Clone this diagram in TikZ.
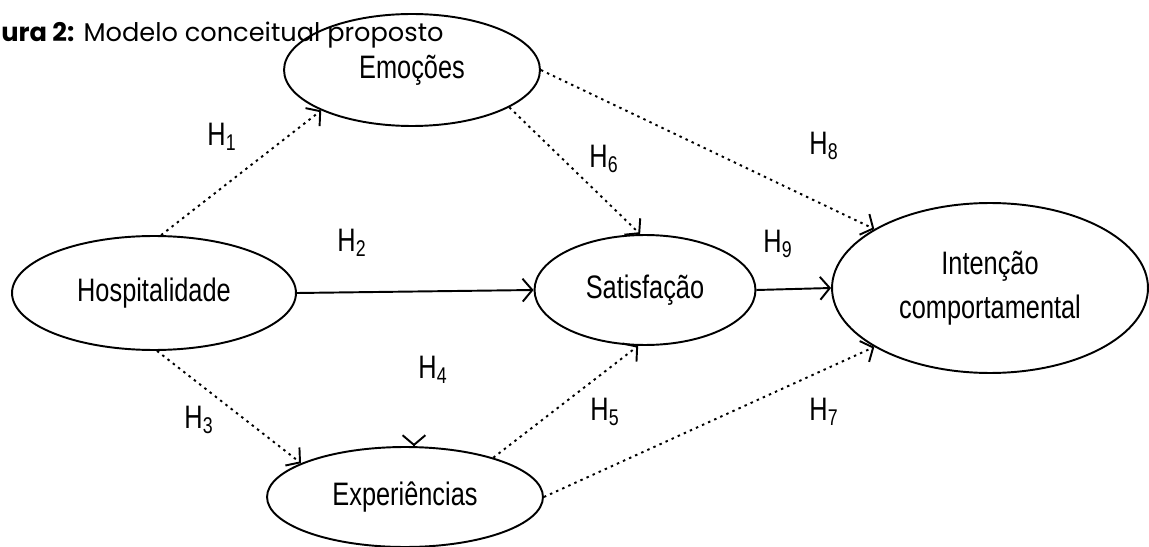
\documentclass[tikz,border=0pt]{standalone}
\usepackage{fontspec}
\setmainfont{Liberation Sans}
\newfontfamily\narrowfont[FakeStretch=0.78]{Liberation Sans}
\newfontfamily\titlefont{Poppins}
\usetikzlibrary{arrows.meta,shapes.geometric}
\newcommand{\hyp}[1]{H\textsubscript{#1}}

\begin{document}
\begin{tikzpicture}[x=0.02cm,y=-0.02cm]
    \tikzstyle{every node}+=[inner sep=0pt]
    \tikzstyle{construct}=[draw, ellipse, line width=1.1pt, align=center, font=\narrowfont\fontsize{18.5}{25}\selectfont]
    \tikzstyle{arr}=[line width=1.1pt, -{Straight Barb[length=5.5pt,width=13pt]}]
    \tikzstyle{dotarr}=[arr, dash pattern=on 1.4pt off 2.4pt]
    \tikzstyle{hlabel}=[font=\narrowfont\fontsize{18.5}{20}\selectfont]
    \useasboundingbox (0,0) rectangle (1149,547);
    % title
    \node[anchor=base west, font=\titlefont\fontsize{14.6}{16}\selectfont] (title) at (1,42) {\textbf{ura 2:} Modelo conceitual proposto};
    % constructs
    \node[construct, minimum width=5.12cm, minimum height=2.24cm] (emo) at (412,70) {Emoções};
    \node[construct, minimum width=5.68cm, minimum height=2.28cm] (hosp) at (154,293) {Hospitalidade};
    \node[construct, minimum width=4.42cm, minimum height=2.2cm] (sat) at (645,290) {Satisfação};
    \node[construct, minimum width=5.52cm, minimum height=2.0cm] (exp) at (405,497) {Experiências};
    \node[construct, minimum width=6.32cm, minimum height=3.4cm] (int) at (990,288) {Intenção\\comportamental};
    % hypotheses
    \draw[dotarr] (hosp.83) -- (emo.204);
    \draw[arr] (hosp.east) -- (sat.west);
    \draw[dotarr] (hosp.273) -- (exp.162);
    \coordinate (h4) at ([yshift=0.3pt]exp.80);
    \draw[arr] (h4) -- (exp.80);
    \draw[dotarr] (exp.24) -- (sat.263);
    \draw[dotarr] (emo.339) -- (sat.95);
    \draw[dotarr] (exp.east) -- (int.207);
    \draw[dotarr] (emo.east) -- (int.153);
    \draw[arr] (sat.east) -- (int.west);
    % labels
    \node[hlabel] (l1) at (222,137) {\hyp{1}};
    \node[hlabel] (l2) at (352,243) {\hyp{2}};
    \node[hlabel] (l3) at (199,420) {\hyp{3}};
    \node[hlabel] (l4) at (433,370) {\hyp{4}};
    \node[hlabel] (l5) at (605,412) {\hyp{5}};
    \node[hlabel] (l6) at (604,159) {\hyp{6}};
    \node[hlabel] (l7) at (824,412) {\hyp{7}};
    \node[hlabel] (l8) at (824,146) {\hyp{8}};
    \node[hlabel] (l9) at (778,244) {\hyp{9}};
\end{tikzpicture}
\end{document}
